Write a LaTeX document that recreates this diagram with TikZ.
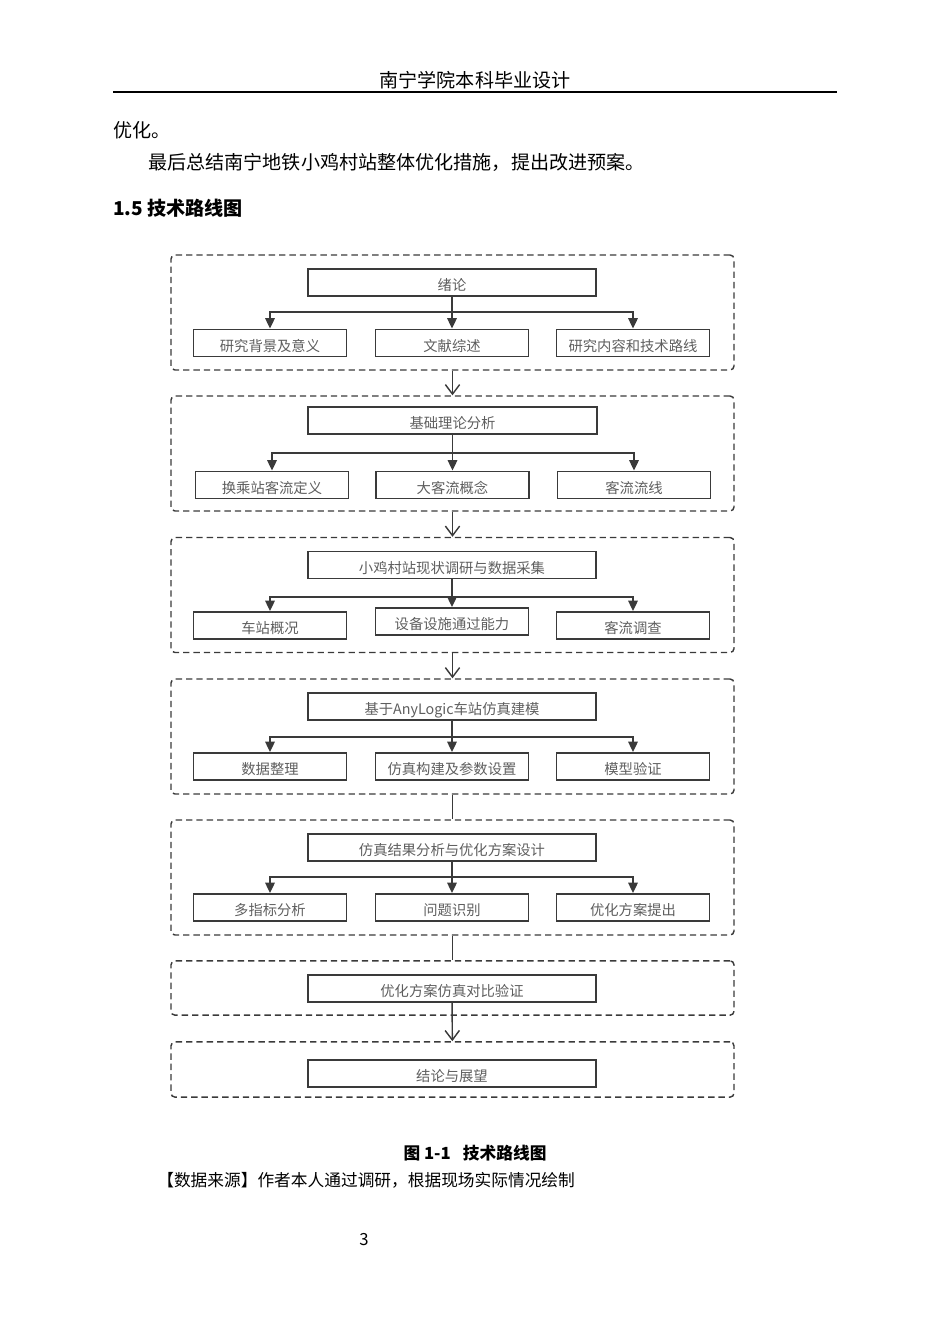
\documentclass[tikz,border=0pt]{standalone}
\usepackage{fontspec}
\setmainfont{Noto Sans CJK SC}
\usetikzlibrary{arrows.meta}
\definecolor{lineC}{HTML}{3A3A3A}
\definecolor{txtC}{HTML}{5E5E5E}

\begin{document}
\begin{tikzpicture}[x=0.0221cm,y=-0.0221cm]

    \tikzset{ST/.style={draw=lineC,line width=0.9pt}}
    \tikzset{FA/.style={ST,-{Triangle[length=6.5pt,width=6pt]}}}
    \tikzset{OA/.style={ST,-{Straight Barb[length=6pt,width=9pt]}}}
    \tikzset{TB/.style={ST,line width=1.1pt,minimum width=6.37cm,minimum height=0.6cm,inner sep=0pt,text height=1.05em,text depth=0pt,font=\fontsize{9}{9}\selectfont,text=txtC}}
    \tikzset{CB/.style={TB,minimum width=3.38cm}}
    \tikzset{GB/.style={draw=lineC,line width=0.9pt,dash pattern=on 4pt off 2.5pt,rounded corners=2.5pt,minimum width=12.44cm,minimum height=2.54cm,inner sep=0pt}}
    \tikzset{PT/.style={inner sep=0pt,anchor=west,font=\fontsize{12}{12}\selectfont}}

    \useasboundingbox (0,0) rectangle (950,1344);

    \node[PT,anchor=center] (hd) at (475,80) {南宁学院本科毕业设计};
    \coordinate (hl) at (113,92);
    \coordinate (hr) at (837,92);
    \draw[line width=1.3pt] (hl) -- (hr);
    \node[PT] (p1) at (113,130) {优化。};
    \node[PT] (p2) at (148,162) {最后总结南宁地铁小鸡村站整体优化措施，提出改进预案。};
    \node[PT,font=\fontsize{12}{12}\selectfont\bfseries] (sec) at (113,208) {1.5 技术路线图};

    \node[GB] (g1) at (452.5,312.5) {};
    	\node[TB] (t1) at (452,282.5) {绪论};
    	\coordinate (j1) at (452,312);
    		\node[CB] (c11) at (270,343) {研究背景及意义};
    		\node[CB] (c12) at (452,343) {文献综述};
    		\node[CB] (c13) at (633,343) {研究内容和技术路线};
    \node[GB] (g2) at (452.5,453.5) {};
    	\node[TB] (t2) at (452.5,420.5) {基础理论分析};
    	\coordinate (j2) at (452.5,453);
    		\node[CB] (c21) at (272,485) {换乘站客流定义};
    		\node[CB] (c22) at (452.5,485) {大客流概念};
    		\node[CB] (c23) at (634,485) {客流流线};
    \node[GB] (g3) at (452.5,595) {};
    	\node[TB] (t3) at (452,565) {小鸡村站现状调研与数据采集};
    	\coordinate (j3) at (452,597);
    		\node[CB] (c31) at (270,625.5) {车站概况};
    		\node[CB] (c32) at (452,621.5) {设备设施通过能力};
    		\node[CB] (c33) at (633,625.5) {客流调查};
    \node[GB] (g4) at (452.5,736.5) {};
    	\node[TB] (t4) at (452,706.5) {基于AnyLogic车站仿真建模};
    	\coordinate (j4) at (452,737);
    		\node[CB] (c41) at (270,766.5) {数据整理};
    		\node[CB] (c42) at (452,766.5) {仿真构建及参数设置};
    		\node[CB] (c43) at (633,766.5) {模型验证};
    \node[GB] (g5) at (452.5,877.5) {};
    	\node[TB] (t5) at (452,847.5) {仿真结果分析与优化方案设计};
    	\coordinate (j5) at (452,877);
    		\node[CB] (c51) at (270,907.5) {多指标分析};
    		\node[CB] (c52) at (452,907.5) {问题识别};
    		\node[CB] (c53) at (633,907.5) {优化方案提出};
    \node[GB,minimum height=1.2cm] (g6) at (452.5,988) {};
    	\node[TB] (t6) at (452,988.5) {优化方案仿真对比验证};
    \node[GB,minimum height=1.22cm] (g7) at (452.5,1069.5) {};
    	\node[TB] (t7) at (452,1073.5) {结论与展望};

    \draw[ST] (t1) -- (j1);
    	\draw[FA] (j1) -| (c11);
    	\draw[FA] (j1) -- (c12);
    	\draw[FA] (j1) -| (c13);
    \draw[ST] (t2) -- (j2);
    	\draw[FA] (j2) -| (c21);
    	\draw[FA] (j2) -- (c22);
    	\draw[FA] (j2) -| (c23);
    \draw[ST] (t3) -- (j3);
    	\draw[FA] (j3) -| (c31);
    	\draw[FA] (j3) -- (c32);
    	\draw[FA] (j3) -| (c33);
    \draw[ST] (t4) -- (j4);
    	\draw[FA] (j4) -| (c41);
    	\draw[FA] (j4) -- (c42);
    	\draw[FA] (j4) -| (c43);
    \draw[ST] (t5) -- (j5);
    	\draw[FA] (j5) -| (c51);
    	\draw[FA] (j5) -- (c52);
    	\draw[FA] (j5) -| (c53);

    \draw[OA] (g1) -- (g2);
    \draw[OA] (g2) -- (g3);
    \draw[OA] (g3) -- (g4);
    \draw[ST] (g4) -- (g5);
    \draw[ST] (g5) -- (g6);
    \draw[OA] (t6) -- (g7);

    \node[PT,anchor=center,font=\fontsize{10.5}{10.5}\selectfont\bfseries] (cap) at (475,1153) {图 1-1\enspace\ 技术路线图};
    \node[PT,font=\fontsize{10.5}{10.5}\selectfont] (src) at (157,1180) {【数据来源】作者本人通过调研，根据现场实际情况绘制};
    \node[PT,anchor=center,font=\fontsize{10.5}{10.5}\selectfont] (pg) at (364,1240) {3};
\end{tikzpicture}
\end{document}
